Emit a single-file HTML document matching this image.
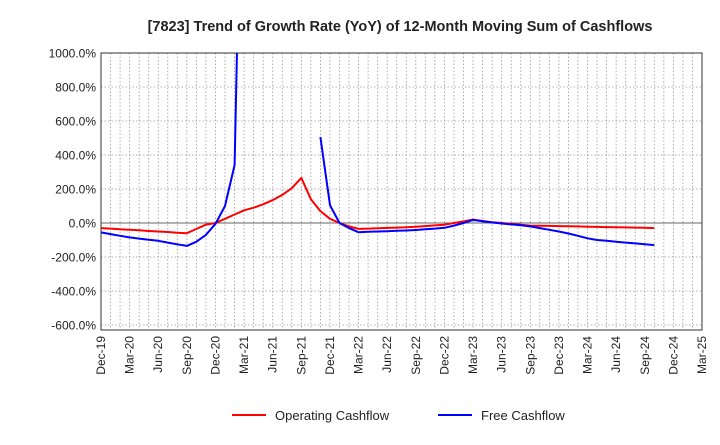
<!DOCTYPE html>
<html><head><meta charset="utf-8"><style>
body{margin:0;background:#fff;font-family:"Liberation Sans",sans-serif}
</style></head><body>
<svg id="chart" width="720" height="440" xmlns="http://www.w3.org/2000/svg">
<text x="400" y="31" text-anchor="middle" font-size="14.5" font-weight="bold" fill="#222">[7823]  Trend of Growth Rate (YoY) of 12-Month Moving Sum of Cashflows</text>
<defs><clipPath id="pc"><rect x="101" y="53" width="601" height="277"/></clipPath></defs>
<g id="grid"></g><g id="axes"></g><g id="series" clip-path="url(#pc)"></g>
<g>
<line x1="232" y1="415" x2="266" y2="415" stroke="#f00" stroke-width="2"/>
<text x="275" y="420" font-size="13" fill="#222">Operating Cashflow</text>
<line x1="438" y1="415" x2="472" y2="415" stroke="#00f" stroke-width="2"/>
<text x="481" y="420" font-size="13" fill="#222">Free Cashflow</text>
</g>
</svg>
<script>
const xLabels=["Dec-19","Mar-20","Jun-20","Sep-20","Dec-20","Mar-21","Jun-21","Sep-21","Dec-21","Mar-22","Jun-22","Sep-22","Dec-22","Mar-23","Jun-23","Sep-23","Dec-23","Mar-24","Jun-24","Sep-24","Dec-24","Mar-25"];
const yTicks=[1000,800,600,400,200,0,-200,-400,-600];
const operating=[-30,-33,-37,-40,-43,-47,-50,-53,-57,-60,-35,-10,0,25,50,75,90,110,135,165,205,265,140,70,25,0,-20,-35,-33,-31,-29,-27,-25,-22,-18,-14,-10,0,10,20,12,5,0,-5,-10,-15,-16,-17,-18,-19,-20,-22,-23,-24,-25,-26,-27,-28,-30];
const freeCf=[-55,-65,-75,-85,-92,-98,-105,-115,-125,-135,-110,-70,-5,100,341,3000,null,null,null,null,null,null,null,506,105,0,-30,-55,-52,-50,-48,-46,-44,-41,-37,-33,-28,-15,0,18,10,3,-3,-8,-13,-20,-30,-40,-50,-62,-75,-90,-100,-105,-110,-115,-120,-125,-130];
const NS="http://www.w3.org/2000/svg";
const L=101,R=702,T=53,B=330;
const xs=m=>L+m*(R-L)/63;
const ys=v=>223-v*34/200;
function mk(tag,attrs,parent){const e=document.createElementNS(NS,tag);for(const k in attrs)e.setAttribute(k,attrs[k]);parent.appendChild(e);return e;}
const grid=document.getElementById('grid'),axes=document.getElementById('axes'),ser=document.getElementById('series');
for(let m=1;m<63;m++){const l=mk('line',{x1:xs(m),x2:xs(m),y1:T,y2:B,stroke:'#999','stroke-dasharray':'1.5,2','stroke-width':0.8},grid);
}
yTicks.forEach(v=>{const y=ys(v);
const l=mk('line',{x1:L,x2:R,y1:y,y2:y,stroke:v===0?'#666':'#999','stroke-dasharray':v===0?'none':'1.5,2','stroke-width':v===0?1:0.8},grid);

const t=mk('text',{x:L-5,y:y+4.5,'text-anchor':'end','font-size':12,fill:'#222'},axes);t.textContent=v.toFixed(1)+'%';
});
xLabels.forEach((s,i)=>{const x=xs(i*3);
const t=mk('text',{x:x+4,y:B+6,'text-anchor':'end','font-size':12,fill:'#222',transform:`rotate(-90 ${x+4} ${B+6})`},axes);t.textContent=s;
});
const fr=mk('rect',{x:L,y:T,width:R-L,height:B-T,fill:'none',stroke:'#333','stroke-width':1},axes);

function draw(arr,color,name){let d='',pen=false;arr.forEach((v,i)=>{if(v===null){pen=false;return;}d+=(pen?'L':'M')+xs(i).toFixed(1)+','+ys(v).toFixed(1);pen=true;});
const p=mk('path',{d:d,fill:'none',stroke:color,'stroke-width':2,'stroke-linejoin':'round'},ser);
}
draw(operating,'#f00','operating-cashflow-line');
draw(freeCf,'#00f','free-cashflow-line');
</script>
</body></html>
